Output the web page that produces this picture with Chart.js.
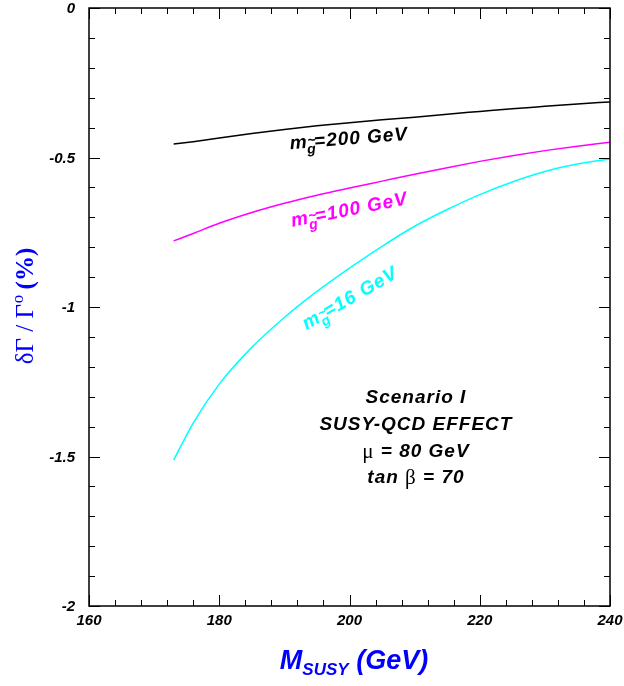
<!DOCTYPE html>
<html lang="en">
<head>
<meta charset="UTF-8">
<title>SUSY-QCD effect</title>
<script src="https://cdn.jsdelivr.net/npm/chart.js"></script>
<style>
  body { margin: 0; background: #fff; }
  .wrap { width: 624px; height: 686px; }
</style>
</head>
<body>
<div class="wrap"><canvas id="chart"></canvas></div>
<script>
// curve data
const massSusy = [173, 176, 180, 185, 190, 195, 200, 205, 210, 215, 220, 225, 230, 235, 240];
const gluino200 = [-0.455, -0.447, -0.435, -0.420, -0.406, -0.394, -0.384, -0.374, -0.365, -0.355, -0.346, -0.337, -0.329, -0.321, -0.314];
const gluino100 = [-0.779, -0.754, -0.720, -0.684, -0.653, -0.626, -0.602, -0.579, -0.556, -0.534, -0.513, -0.494, -0.477, -0.462, -0.449];
const gluino16 = [-1.512, -1.388, -1.258, -1.135, -1.035, -0.948, -0.870, -0.797, -0.730, -0.674, -0.624, -0.582, -0.547, -0.522, -0.505];

const xTicks = [160, 180, 200, 220, 240];
const yTicks = [0, -0.5, -1, -1.5, -2];

// curve labels: [gluino mass, colour, x, y, angle in degrees]
const curveLabels = [
    ['200', '#000000', 190.9, -0.472, -4.5],
    ['100', '#ff00ff', 191.2, -0.732, -11],
    ['16', '#00ffff', 193.4, -1.077, -30]
];
const infoLines = ['Scenario I', 'SUSY-QCD EFFECT', 'μ = 80 GeV', 'tan β = 70'];
const infoY = [-1.304, -1.395, -1.485, -1.572];

const SANS = '"Liberation Sans", Arial, sans-serif';
const SERIF = '"Liberation Serif", "Times New Roman", serif';

function toPoints(ys) {
    return massSusy.map((x, i) => ({ x: x, y: ys[i] }));
}

// m with a g-tilde subscript, then "=... GeV"
function drawGluinoLabel(ctx, num) {
    ctx.letterSpacing = '1px';
    ctx.font = 'bold italic 19px ' + SANS;
    ctx.fillText('m', 0, 0);
    const w = ctx.measureText('m').width;
    ctx.font = 'bold italic 14px ' + SANS;
    ctx.fillText('g', w - 1, 6);
    const gw = ctx.measureText('g').width;
    ctx.fillText('~', w, -3);
    ctx.font = 'bold italic 19px ' + SANS;
    ctx.fillText('=' + num + ' GeV', w + gw - 3, 0);
    ctx.letterSpacing = '0px';
}

function drawMixed(ctx, parts, cx, py) {
    // parts: [text, isGreek]
    const fonts = parts.map(p => p[1] ? '21px ' + SERIF : 'bold italic 19px ' + SANS);
    const widths = parts.map((p, i) => { ctx.font = fonts[i]; return ctx.measureText(p[0]).width; });
    let x = cx - widths.reduce((a, b) => a + b, 0) / 2;
    ctx.textAlign = 'left';
    parts.forEach((p, i) => {
        ctx.font = fonts[i];
        ctx.fillText(p[0], x, py);
        x += widths[i];
    });
}

const framePlugin = {
    id: 'frame',
    afterDraw(chart) {
        const ctx = chart.ctx;
        const a = chart.chartArea;
        const xs = chart.scales.x, ys = chart.scales.y;
        ctx.save();
        ctx.strokeStyle = '#000';
        ctx.lineWidth = 1.5;
        ctx.strokeRect(a.left, a.top, a.right - a.left, a.bottom - a.top);

        ctx.lineWidth = 1;
        ctx.beginPath();
        // x ticks every 4, major every 20
        for (let v = 160; v <= 240; v += 4) {
            const px = Math.round(xs.getPixelForValue(v)) + 0.5;
            const len = (v % 20 === 0) ? 11 : 6;
            ctx.moveTo(px, a.bottom); ctx.lineTo(px, a.bottom - len);
            ctx.moveTo(px, a.top); ctx.lineTo(px, a.top + len);
        }
        // y ticks every 0.1, major every 0.5
        for (let k = 0; k <= 20; k++) {
            const v = -k / 10;
            const py = Math.round(ys.getPixelForValue(v)) + 0.5;
            const len = (k % 5 === 0) ? 11 : 6;
            ctx.moveTo(a.left, py); ctx.lineTo(a.left + len, py);
            ctx.moveTo(a.right, py); ctx.lineTo(a.right - len, py);
        }
        ctx.stroke();

        // tick labels
        ctx.fillStyle = '#000';
        ctx.font = 'bold italic 15px ' + SANS;
        ctx.textBaseline = 'middle';
        ctx.textAlign = 'right';
        yTicks.forEach(v => ctx.fillText(String(v), a.left - 14, ys.getPixelForValue(v) + 1));
        ctx.textAlign = 'center';
        xTicks.forEach(v => ctx.fillText(String(v), xs.getPixelForValue(v), a.bottom + 15));

        // curve labels
        ctx.textBaseline = 'alphabetic';
        ctx.textAlign = 'left';
        curveLabels.forEach(l => {
            ctx.save();
            ctx.translate(xs.getPixelForValue(l[2]), ys.getPixelForValue(l[3]));
            ctx.rotate(l[4] * Math.PI / 180);
            ctx.fillStyle = l[1];
            drawGluinoLabel(ctx, l[0]);
            ctx.restore();
        });

        // info block
        ctx.fillStyle = '#000';
        ctx.textBaseline = 'middle';
        ctx.letterSpacing = '1px';
        const cx = xs.getPixelForValue(210.2);
        infoLines.forEach((t, i) => {
            const py = ys.getPixelForValue(infoY[i]);
            if (i === 2) {
                drawMixed(ctx, [['μ', true], [' = 80 GeV', false]], cx, py);
            } else if (i === 3) {
                drawMixed(ctx, [['tan ', false], ['β', true], [' = 70', false]], cx, py);
            } else {
                ctx.textAlign = 'center';
                ctx.font = 'bold italic 19px ' + SANS;
                ctx.fillText(t, cx, py);
            }
        });
        ctx.letterSpacing = '0px';

        // x axis title with subscript
        ctx.fillStyle = '#0000ff';
        ctx.textAlign = 'left';
        ctx.textBaseline = 'alphabetic';
        ctx.font = 'bold italic 27px ' + SANS;
        const mW = ctx.measureText('M').width;
        ctx.font = 'bold italic 17px ' + SANS;
        const sW = ctx.measureText('SUSY').width;
        ctx.font = 'bold italic 27px ' + SANS;
        const rW = ctx.measureText(' (GeV)').width;
        const tx = 354 - (mW + sW + rW) / 2;
        const ty = 669;
        ctx.fillText('M', tx, ty);
        ctx.font = 'bold italic 17px ' + SANS;
        ctx.fillText('SUSY', tx + mW, ty + 6);
        ctx.font = 'bold italic 27px ' + SANS;
        ctx.fillText(' (GeV)', tx + mW + sW, ty);

        // y axis title, rotated
        ctx.save();
        ctx.translate(33, 306);
        ctx.rotate(-Math.PI / 2);
        const p1 = 'δΓ / Γ', p2 = 'o', p3 = ' (%)';
        ctx.font = '25px ' + SERIF;
        const w1 = ctx.measureText(p1).width;
        ctx.font = '17px ' + SERIF;
        const w2 = ctx.measureText(p2).width;
        ctx.font = 'bold 25px ' + SERIF;
        const w3 = ctx.measureText(p3).width;
        const sx = -(w1 + w2 + w3) / 2;
        ctx.font = '25px ' + SERIF;
        ctx.fillText(p1, sx, 0);
        ctx.font = '17px ' + SERIF;
        ctx.fillText(p2, sx + w1 + 1, -10);
        ctx.font = 'bold 25px ' + SERIF;
        ctx.fillText(p3, sx + w1 + w2, 0);
        ctx.restore();

        ctx.restore();
    }
};

function lineSet(ys, color) {
    return {
        data: toPoints(ys),
        borderColor: color,
        borderWidth: 1.5,
        pointRadius: 0,
        fill: false,
        cubicInterpolationMode: 'monotone'
    };
}

new Chart(document.getElementById('chart'), {
    type: 'line',
    data: {
        datasets: [
            lineSet(gluino200, '#000000'),
            lineSet(gluino100, '#ff00ff'),
            lineSet(gluino16, '#00ffff')
        ]
    },
    options: {
        responsive: true,
        maintainAspectRatio: false,
        animation: false,
        layout: { padding: { left: 0, top: 8, right: 14, bottom: 0 } },
        plugins: { legend: { display: false }, tooltip: { enabled: false } },
        scales: {
            x: {
                type: 'linear',
                min: 160, max: 240,
                afterFit(scale) { scale.height = 80; },
                grid: { display: false, drawTicks: false },
                border: { display: false },
                ticks: { display: false }
            },
            y: {
                type: 'linear',
                min: -2, max: 0,
                afterFit(scale) { scale.width = 89; },
                grid: { display: false, drawTicks: false },
                border: { display: false },
                ticks: { display: false }
            }
        }
    },
    plugins: [framePlugin]
});
</script>
</body>
</html>
